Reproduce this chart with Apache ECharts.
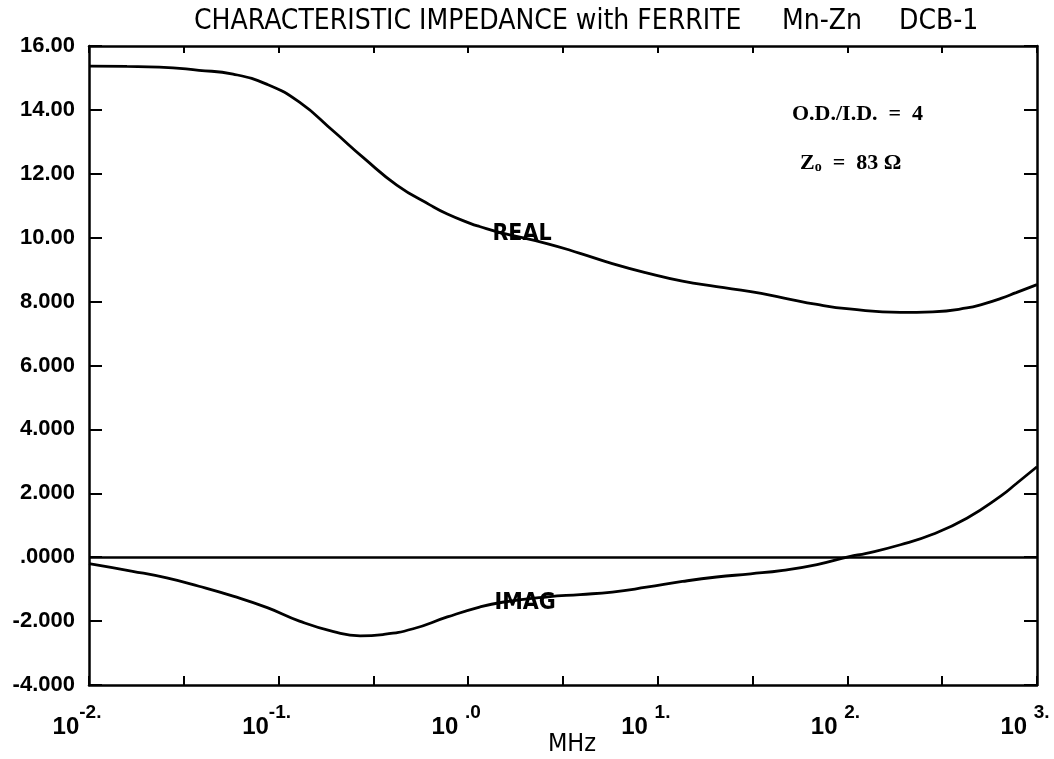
<!DOCTYPE html>
<html>
<head>
<meta charset="utf-8">
<script src="https://cdn.jsdelivr.net/npm/echarts@6/dist/echarts.min.js"></script>
<style>
html,body{margin:0;padding:0;background:#fff;}
#chart{width:1054px;height:759px;}
</style>
</head>
<body>
<div id="chart"></div>
<script>
// x values are log10(frequency / MHz)
const realLogF = [-2.00, -1.80, -1.63, -1.42, -1.24, -1.06, -0.89, -0.71, -0.55, -0.375, -0.20, -0.11, 0.01, 0.06, 0.17, 0.42, 0.59, 0.76, 0.94, 1.13, 1.31, 1.49, 1.66, 1.84, 2.01, 2.28, 2.45, 2.63, 2.72, 2.81, 2.89, 3.00];
const realVal  = [15.37, 15.36, 15.34, 15.24, 15.12, 14.80, 14.24, 13.33, 12.49, 11.64, 11.02, 10.74, 10.45, 10.35, 10.16, 9.81, 9.51, 9.19, 8.90, 8.64, 8.47, 8.31, 8.12, 7.91, 7.77, 7.66, 7.68, 7.80, 7.93, 8.10, 8.28, 8.53];
const imagLogF = [-2.00, -1.77, -1.59, -1.42, -1.24, -1.06, -0.89, -0.71, -0.57, -0.45, -0.29, -0.11, 0.06, 0.18, 0.42, 0.59, 0.76, 0.94, 1.13, 1.31, 1.49, 1.66, 1.84, 2.01, 2.10, 2.28, 2.45, 2.63, 2.81, 2.89, 3.00];
const imagVal  = [-0.20, -0.44, -0.65, -0.91, -1.22, -1.58, -2.00, -2.33, -2.46, -2.42, -2.24, -1.87, -1.56, -1.41, -1.24, -1.17, -1.09, -0.94, -0.76, -0.62, -0.52, -0.41, -0.23, 0.02, 0.12, 0.39, 0.72, 1.22, 1.92, 2.30, 2.83];

const yTickValues = [-4, -2, 0, 2, 4, 6, 8, 10, 12, 14, 16];
const yTickLabels = ['-4.000', '-2.000', '.0000', '2.000', '4.000', '6.000', '8.000', '10.00', '12.00', '14.00', '16.00'];
const xDecades   = [-2, -1, 0, 1, 2, 3];
const xTickBase  = ['10', '10', '10 ', '10 ', '10 ', '10 '];
const xTickExp   = ['-2.', '-1.', '.0', '1.', '2.', '3.'];

const titleParts = ['CHARACTERISTIC IMPEDANCE with FERRITE', 'Mn-Zn', 'DCB-1'];
const curveLabels = [{name: 'REAL', x: 0.284, y: 10.11}, {name: 'IMAG', x: 0.30, y: -1.44}];

const narrow = '"Liberation Sans Narrow", "DejaVu Sans Condensed", "Liberation Sans", sans-serif';

const chart = echarts.init(document.getElementById('chart'), null, {renderer: 'canvas'});

function pair(xs, ys) { return xs.map((x, i) => [x, ys[i]]); }

function curveLabelPoint(lbl) {
  return {
    symbol: 'circle', symbolSize: 1,
    itemStyle: {color: 'rgba(0,0,0,0)'},
    label: {show: true, position: 'inside', color: '#000', fontFamily: narrow, fontSize: 23, fontWeight: 'bold', formatter: lbl.name},
    data: [{coord: [lbl.x, lbl.y]}]
  };
}

const axisLineStyle = {color: '#000', width: 2.5};
const titleStyle = {fontFamily: narrow, fontSize: 28, fontWeight: 'normal', color: '#000'};
const serif = '"Liberation Serif", serif';

const option = {
  backgroundColor: '#fff',
  animation: false,
  title: [
    {text: titleParts[0], left: 189, top: 3, textStyle: titleStyle},
    {text: titleParts[1], left: 777, top: 3, textStyle: titleStyle},
    {text: titleParts[2], left: 894, top: 3, textStyle: titleStyle}
  ],
  grid: {left: 89, right: 17, top: 46, bottom: 74, containLabel: false, outerBoundsMode: 'none'},
  xAxis: [
    {
      type: 'value', position: 'bottom', min: -2, max: 3, interval: 0.5,
      axisLine: {show: true, onZero: false, lineStyle: axisLineStyle},
      axisTick: {show: true, inside: true, length: 9, lineStyle: {color: '#000', width: 2}},
      splitLine: {show: false},
      axisLabel: {
        show: true, margin: 18, color: '#000',
        formatter: function (v) {
          const i = xDecades.indexOf(Math.round(v * 2) / 2);
          if (i < 0) return '';
          return '{b|' + xTickBase[i] + '}{s|' + xTickExp[i] + '}{p|}';
        },
        rich: {
          b: {fontFamily: '"Liberation Sans", sans-serif', fontWeight: 'bold', fontSize: 24, lineHeight: 36, verticalAlign: 'bottom', color: '#000'},
          s: {fontFamily: '"Liberation Sans", sans-serif', fontWeight: 'bold', fontSize: 19, lineHeight: 36, verticalAlign: 'top', color: '#000'},
          p: {width: 24, lineHeight: 36}
        }
      },
      name: 'MHz', nameLocation: 'middle', nameGap: 47, nameMoveOverlap: false,
      nameTextStyle: {fontFamily: narrow, fontSize: 25, color: '#000', verticalAlign: 'top', padding: [0, 0, 0, 18]}
    },
    {
      type: 'value', position: 'top', min: -2, max: 3, interval: 0.5,
      axisLine: {show: true, onZero: false, lineStyle: axisLineStyle},
      axisTick: {show: true, inside: true, length: 7, lineStyle: {color: '#000', width: 2}},
      splitLine: {show: false}, axisLabel: {show: false}
    }
  ],
  yAxis: [
    {
      type: 'value', position: 'left', min: -4, max: 16, interval: 2,
      axisLine: {show: true, onZero: false, lineStyle: axisLineStyle},
      axisTick: {show: true, inside: true, length: 13, lineStyle: {color: '#000', width: 2}},
      splitLine: {show: false},
      axisLabel: {
        show: true, margin: 14, color: '#000',
        fontFamily: '"Liberation Sans", sans-serif', fontWeight: 'bold', fontSize: 22,
        formatter: function (v) {
          const i = yTickValues.indexOf(Math.round(v));
          return i < 0 ? '' : yTickLabels[i];
        }
      }
    },
    {
      type: 'value', position: 'right', min: -4, max: 16, interval: 2,
      axisLine: {show: true, onZero: false, lineStyle: axisLineStyle},
      axisTick: {show: true, inside: true, length: 13, lineStyle: {color: '#000', width: 2}},
      splitLine: {show: false}, axisLabel: {show: false}
    }
  ],
  graphic: [
    {type: 'text', left: 792, top: 103, style: {text: 'O.D./I.D.  =  4', fontFamily: serif, fontWeight: 'bold', fontSize: 22, fill: '#000'}},
    {type: 'text', left: 800, top: 152, style: {
      text: '{z|Z}{o|o}{z|  =  83 Ω}',
      rich: {
        z: {fontFamily: serif, fontWeight: 'bold', fontSize: 22, fill: '#000', verticalAlign: 'bottom', lineHeight: 25},
        o: {fontFamily: serif, fontWeight: 'bold', fontSize: 14, fill: '#000', verticalAlign: 'bottom', lineHeight: 21}
      }
    }}
  ],
  series: [
    {
      name: 'REAL', type: 'line', xAxisIndex: 0, yAxisIndex: 0,
      data: pair(realLogF, realVal), smooth: 0.5, showSymbol: false, symbol: 'none',
      lineStyle: {color: '#000', width: 2.8},
      markPoint: curveLabelPoint(curveLabels[0])
    },
    {
      name: 'IMAG', type: 'line', xAxisIndex: 0, yAxisIndex: 0,
      data: pair(imagLogF, imagVal), smooth: 0.5, showSymbol: false, symbol: 'none',
      lineStyle: {color: '#000', width: 2.8},
      markPoint: curveLabelPoint(curveLabels[1]),
      markLine: {
        silent: true, symbol: ['none', 'none'], label: {show: false},
        lineStyle: {color: '#000', width: 2.5, type: 'solid'},
        data: [{yAxis: 0}]
      }
    }
  ]
};

chart.setOption(option);
</script>
</body>
</html>
